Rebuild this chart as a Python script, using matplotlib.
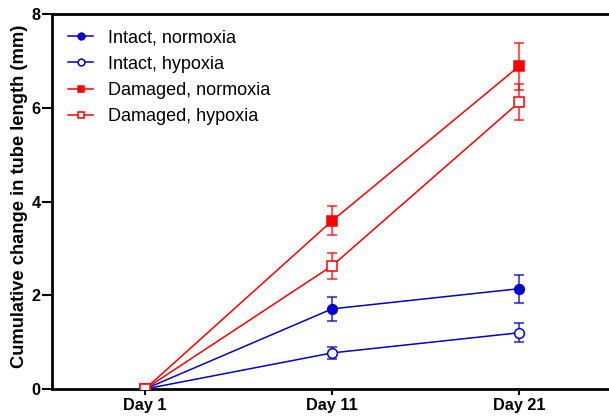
import numpy as np
import matplotlib; matplotlib.use('Agg')
import matplotlib.pyplot as plt

plt.rcParams['font.family'] = ['Liberation Sans', 'DejaVu Sans']

days = ['Day 1', 'Day 11', 'Day 21']
intact_norm = [0.0, 1.71, 2.14]
intact_norm_err = [0.0, 0.25, 0.30]
intact_hyp = [0.0, 0.77, 1.20]
intact_hyp_err = [0.0, 0.13, 0.20]
dam_norm = [0.0, 3.59, 6.89]
dam_norm_err = [0.0, 0.31, 0.50]
dam_hyp = [0.0, 2.63, 6.12]
dam_hyp_err = [0.0, 0.28, 0.39]

blue = '#0000C8'; red = '#FF0000'
x = np.arange(len(days))

fig = plt.figure(figsize=(6.09, 4.18), dpi=100)
ax = fig.add_axes([0.0846, 0.0694, 0.9154, 0.897])

series = [
    (intact_norm, intact_norm_err, blue, 'o', True, 'Intact, normoxia'),
    (intact_hyp, intact_hyp_err, blue, 'o', False, 'Intact, hypoxia'),
    (dam_norm, dam_norm_err, red, 's', True, 'Damaged, normoxia'),
    (dam_hyp, dam_hyp_err, red, 's', False, 'Damaged, hypoxia'),
]
for y, e, c, m, filled, lab in series:
    ax.errorbar(x, y, yerr=e, fmt='none', ecolor=c, alpha=0.65, elinewidth=1.5,
                capsize=3.6, capthick=1.5, zorder=2)
    ax.plot(x, y, color=c, lw=1.1, marker=m, ms=7 if m == 'o' else 6.8,
            mfc=c if filled else 'white', mec=c, mew=1.1, label=lab, zorder=3)

ax.set_xlim(-0.5, 2.48)
ax.set_ylim(0, 8)
ax.set_xticks(x)
ax.set_xticklabels(days, fontsize=11.7, fontweight='bold')
ax.set_yticks([0, 2, 4, 6, 8])
ax.set_yticklabels(['0', '2', '4', '6', '8'], fontsize=11.7, fontweight='bold')
ax.set_ylabel('Cumulative change in tube length (mm)', fontsize=13.2, fontweight='bold')
ax.yaxis.set_label_coords(-0.042, 0.513)
for s in ['left', 'bottom', 'top']:
    ax.spines[s].set_linewidth(2)
ax.spines['right'].set_visible(False)
ax.tick_params(axis='x', width=1.5, length=4.3, pad=2.5, direction='out')
ax.tick_params(axis='y', width=1.5, length=7, pad=1, direction='out')

leg = ax.legend(loc='upper left', bbox_to_anchor=(0.017, 0.979), borderaxespad=0,
                frameon=False, fontsize=13, markerscale=0.7,
                handlelength=1.4, handletextpad=0.78, labelspacing=0.52)

fig.savefig('out.png', dpi=100)
